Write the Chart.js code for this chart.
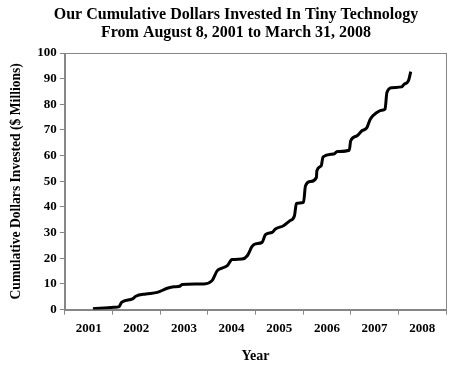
<!DOCTYPE html>
<html>
<head>
<meta charset="utf-8">
<script src="https://cdn.jsdelivr.net/npm/chart.js@4/dist/chart.umd.min.js"></script>
<style>
  html, body { margin: 0; padding: 0; background: #fff; }
  #wrap { width: 457px; height: 373px; }
</style>
</head>
<body>
<div id="wrap"><canvas id="c" width="457" height="373"></canvas></div>
<script>
const titleLines = ["Our Cumulative Dollars Invested In Tiny Technology", "From August 8, 2001 to March 31, 2008"];
const yearLabels = ["2001", "2002", "2003", "2004", "2005", "2006", "2007", "2008"];
const dates = [2001.59, 2002.03, 2002.14, 2002.19, 2002.42, 2002.49, 2002.70, 2002.94, 2003.15, 2003.29,
  2003.41, 2003.46, 2003.92, 2004.09, 2004.20, 2004.30, 2004.41, 2004.51, 2004.72, 2004.83,
  2004.93, 2005.00, 2005.14, 2005.21, 2005.35, 2005.42, 2005.59, 2005.72, 2005.82, 2005.86,
  2006.01, 2006.05, 2006.15, 2006.28, 2006.29, 2006.38, 2006.42, 2006.64, 2006.72, 2006.97,
  2007.00, 2007.13, 2007.23, 2007.34, 2007.41, 2007.55, 2007.65, 2007.72, 2007.76, 2007.86,
  2008.07, 2008.12, 2008.21, 2008.26];
const invested = [0.3, 0.9, 1.2, 2.8, 4.2, 5.2, 6.1, 6.7, 8.3, 8.9,
  9.1, 9.8, 10.0, 11.3, 15.2, 16.2, 17.1, 19.5, 19.7, 21.0,
  24.6, 25.6, 26.2, 29.2, 30.1, 31.4, 32.7, 34.6, 36.6, 41.4,
  41.8, 48.2, 49.9, 51.5, 54.1, 56.0, 59.5, 60.6, 61.6, 62.1,
  65.8, 67.7, 69.6, 70.9, 74.2, 76.8, 77.7, 78.1, 84.6, 86.5,
  86.8, 87.8, 89.1, 92.7];
const yTicks = [0, 10, 20, 30, 40, 50, 60, 70, 80, 90, 100];

const FONT = '"Liberation Serif", "Times New Roman", serif';
const GRAY = '#868686';

const boxAndTitle = {
  id: 'boxAndTitle',
  afterDraw(chart) {
    const ctx = chart.ctx, a = chart.chartArea;
    ctx.save();
    ctx.strokeStyle = GRAY;
    ctx.lineWidth = 1;
    ctx.strokeRect(Math.round(a.left) + 0.5, Math.round(a.top) + 0.5,
      Math.round(a.right - a.left), Math.round(a.bottom - a.top));
    ctx.fillStyle = '#000';
    ctx.font = 'bold 16px ' + FONT;
    ctx.textAlign = 'center';
    ctx.textBaseline = 'middle';
    ctx.fillText(titleLines[0], 236, 15);
    ctx.fillText(titleLines[1], 236, 33);
    ctx.restore();
  }
};

new Chart(document.getElementById('c'), {
  type: 'line',
  data: {
    labels: yearLabels,
    datasets: [{
      data: dates.map((d, i) => ({ x: d, y: invested[i] })),
      xAxisID: 'xd',
      yAxisID: 'y',
      borderColor: '#000',
      borderWidth: 3,
      pointRadius: 0,
      fill: false,
      cubicInterpolationMode: 'monotone'
    }]
  },
  options: {
    responsive: false,
    animation: false,
    devicePixelRatio: 1,
    layout: { padding: { top: 53, right: 11, bottom: 8, left: 8 } },
    plugins: { legend: { display: false }, tooltip: { enabled: false }, title: { display: false } },
    scales: {
      xd: {
        type: 'linear', min: 2001, max: 2009, display: false
      },
      x: {
        type: 'category',
        position: 'bottom',
        offset: true,
        grid: { offset: true, drawOnChartArea: false, drawTicks: true, tickLength: 5, color: GRAY },
        border: { color: GRAY },
        ticks: { color: '#000', font: { family: FONT, size: 13, weight: 'bold' }, padding: 6, maxRotation: 0 },
        title: { display: true, text: 'Year', color: '#000', font: { family: FONT, size: 14, weight: 'bold' }, padding: { top: 6, bottom: 0 } }
      },
      y: {
        type: 'linear',
        min: 0, max: 100,
        afterBuildTicks(scale) { scale.ticks = yTicks.map(v => ({ value: v })); },
        grid: { drawOnChartArea: false, drawTicks: true, tickLength: 5, color: GRAY },
        border: { color: GRAY },
        ticks: { color: '#000', font: { family: FONT, size: 13, weight: 'bold' }, padding: 3 },
        title: { display: true, text: 'Cumulative Dollars Invested ($ Millions)', color: '#000', font: { family: FONT, size: 13.6, weight: 'bold' }, padding: { top: 0, bottom: 10 } }
      }
    }
  },
  plugins: [boxAndTitle]
});
</script>
</body>
</html>
